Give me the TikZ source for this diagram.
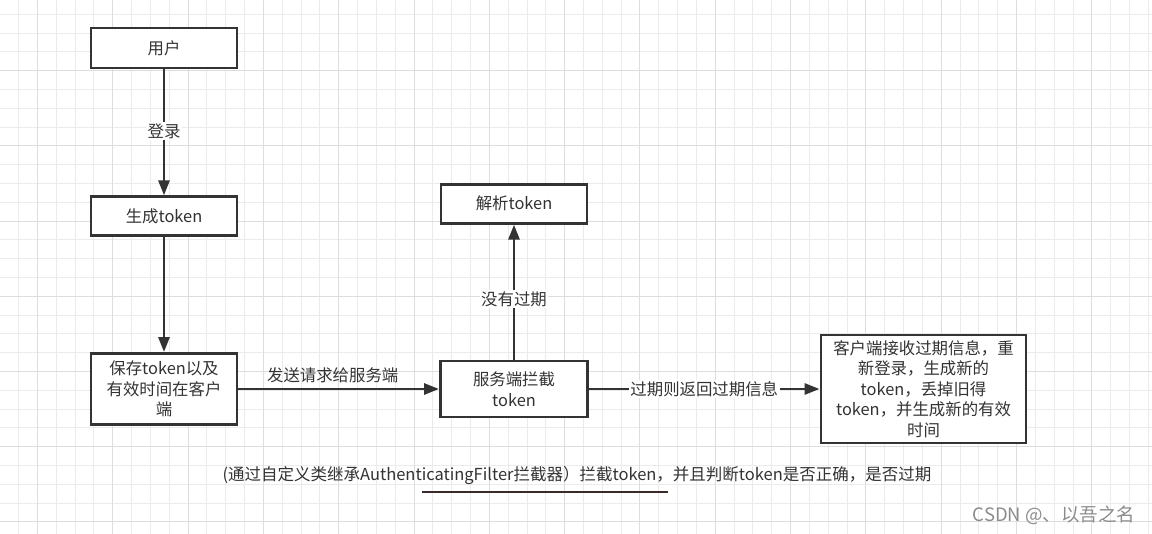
\documentclass[tikz,border=0pt]{standalone}
\usepackage{fontspec}
\setmainfont{Noto Sans CJK SC}
\usetikzlibrary{arrows.meta}
\definecolor{ink}{HTML}{333333}
\definecolor{gridminor}{HTML}{EBEBEB}
\definecolor{gridmajor}{HTML}{DDDDDD}
\definecolor{uline}{HTML}{3A2A2A}
\tikzset{
  box/.style={draw=ink, line width=2.9pt, fill=white, text=ink, align=center,
    font=\fontsize{16.4}{20.5}\selectfont, inner sep=2pt},
  arr/.style={draw=ink, line width=2.8pt, -{Triangle[length=15pt,width=11pt]}},
  lbl/.style={fill=white, text=ink, font=\fontsize{16.4}{20}\selectfont, inner sep=1.5pt},
  gminor/.style={draw=gridminor, line width=1pt},
  gmajor/.style={draw=gridmajor, line width=1pt},
}
\begin{document}
\begin{tikzpicture}[x=1pt,y=-1pt]
\useasboundingbox (0,0) rectangle (1152,534);
\fill[white] (0,0) rectangle (1152,534);
% grid
\foreach \i in {0,...,61} { \draw[gminor] ({18.6+\i*18.83},0) -- ({18.6+\i*18.83},534); }
\foreach \i in {0,...,28} { \draw[gminor] (0,{14.3+\i*18.8}) -- (1152,{14.3+\i*18.8}); }
\foreach \i in {0,...,15} { \draw[gmajor] ({37.4+\i*75.32},0) -- ({37.4+\i*75.32},534); }
\foreach \i in {0,...,6} { \draw[gmajor] (0,{70.7+\i*75.2}) -- (1152,{70.7+\i*75.2}); }

% nodes
\node[box, minimum width=146pt, minimum height=40pt] (user) at (164,48) {用户};
\node[box, minimum width=146pt, minimum height=39pt] (gen) at (164,216.3) {生成token};
\node[box, minimum width=146pt, minimum height=71pt] (save) at (164,389) {保存token以及\\有效时间在客户\\端};
\node[box, minimum width=147pt, minimum height=56pt] (server) at (514,389) {服务端拦截\\token};
\node[box, minimum width=146pt, minimum height=39pt] (parse) at (514,203.7) {解析token};
\node[box, minimum width=205pt, minimum height=108pt] (client) at (923.5,389) {客户端接收过期信息，重\\新登录，生成新的\\token，丢掉旧得\\token，并生成新的有效\\时间};

% connectors
\draw[arr] (user) -- node[lbl, pos=0.49] {登录} (gen);
\draw[arr] (gen) -- (save);
\draw[arr] (save) -- node[lbl, fill=none, pos=0.47, above=3pt] {发送请求给服务端} (server);
\draw[arr] (server) -- node[lbl, pos=0.45] {没有过期} (parse);
\draw[arr] (server) -- node[lbl, pos=0.5] {过期则返回过期信息} (client);

% bottom note
\node[text=ink, font=\fontsize{16.5}{20}\selectfont, inner sep=0pt] (note) at (577,476) {(通过自定义类继承AuthenticatingFilter拦截器）拦截token，并且判断token是否正确，是否过期};
\draw[uline, line width=2.2pt] (422,492) -- (668,492);

% watermark
\node[text=black!45, font=\fontsize{18.5}{20}\selectfont, inner sep=0pt] (wm) at (1054,515) {CSDN @、以吾之名};
\end{tikzpicture}
\end{document}
